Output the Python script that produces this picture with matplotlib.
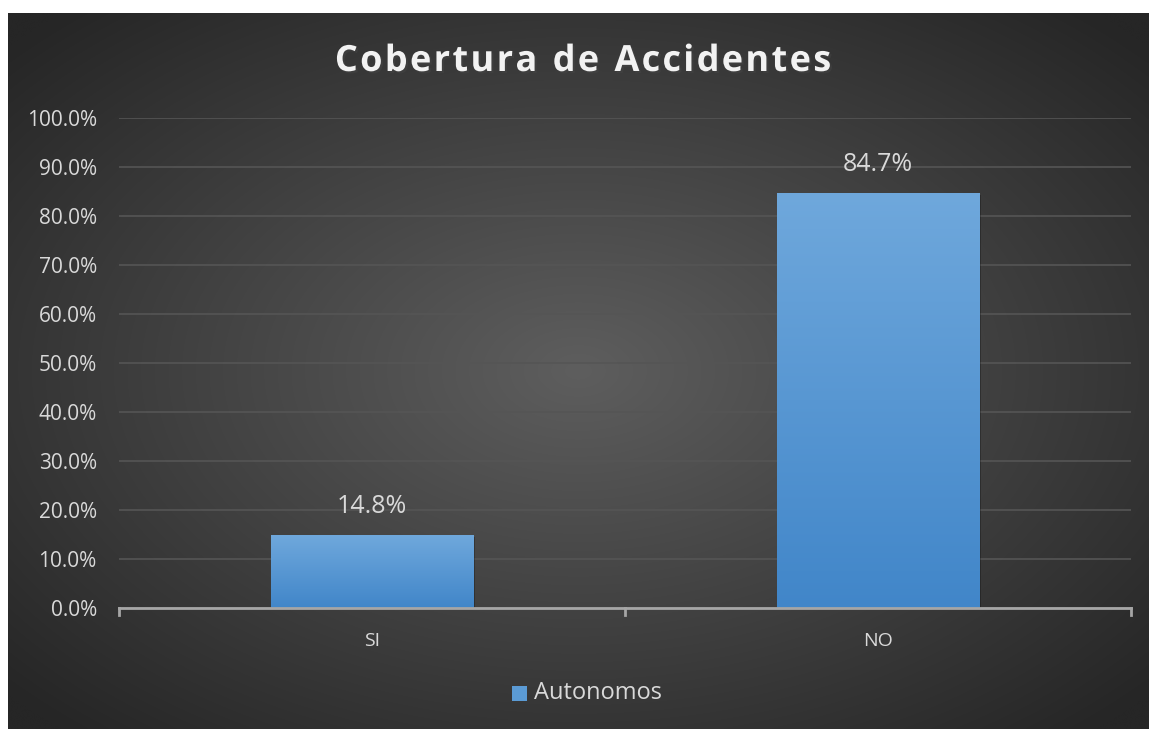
import matplotlib
matplotlib.use("Agg")
import matplotlib.pyplot as plt
import matplotlib.patheffects as pe
import numpy as np
from matplotlib.patches import Rectangle

# data
categories = ["SI", "NO"]
values = [14.8, 84.7]
series_name = "Autonomos"
title = "Cobertura de Accidentes"
yticks = [0, 10, 20, 30, 40, 50, 60, 70, 80, 90, 100]

plt.rcParams['font.family'] = ['Open Sans', 'DejaVu Sans']

W, H = 1149, 729
fig = plt.figure(figsize=(W / 100, H / 100), dpi=100)
fig.patch.set_facecolor("white")

# dark panel with radial gradient
bg = fig.add_axes([8 / W, 0, (W - 8) / W, (H - 13) / H])
bg.set_axis_off()
yy, xx = np.mgrid[-1:1:400j, -1:1:600j]
r = np.sqrt(xx ** 2 + yy ** 2) / np.sqrt(2)
light = np.array([0x5e, 0x5e, 0x5e]) / 255
dark = np.array([0x26, 0x26, 0x26]) / 255
t = np.clip(r / 0.95, 0, 1)[..., None]
img = light * (1 - t) + dark * t
bg.imshow(img, aspect="auto", extent=[0, 1, 0, 1], interpolation="bicubic")
bg.set_xlim(0, 1)
bg.set_ylim(0, 1)

# plot axes
ax = fig.add_axes([119 / W, (H - 608) / H, 1012 / W, 490 / H])
ax.patch.set_alpha(0)
x = np.arange(len(categories))
bars = ax.bar(x, values, width=0.4, color="#5b9bd5", zorder=3)

# gradient fill on bars
grad = np.linspace(0, 1, 256)[:, None]
top = np.array([0x6f, 0xa8, 0xdc]) / 255
bot = np.array([0x41, 0x86, 0xc9]) / 255
for b in bars:
    bx, by, bw, bh = b.get_x(), b.get_y(), b.get_width(), b.get_height()
    g = top * (1 - grad[..., None]) + bot * grad[..., None]
    g = np.repeat(g, 2, axis=1)
    im = ax.imshow(g, extent=[bx, bx + bw, by, by + bh], aspect="auto", zorder=4)
    im.set_clip_path(b)
    sh = Rectangle((bx + 0.004, by - 0.4), bw, bh, facecolor="black", alpha=0.25,
                   zorder=2, edgecolor="none")
    ax.add_patch(sh)

ax.set_xlim(-0.5, 1.5)
ax.set_ylim(0, 100)
ax.set_yticks(yticks)
ax.set_yticklabels([f"{v:.1f}%" for v in yticks])
ax.set_xticks(x)
ax.set_xticklabels(categories)
ax.grid(axis="y", color="#555555", linewidth=1.2, zorder=0)
ax.set_axisbelow(True)

for s in ["top", "right", "left"]:
    ax.spines[s].set_visible(False)
ax.spines["bottom"].set_color("#a6a6a6")
ax.spines["bottom"].set_linewidth(2)
ax.spines["bottom"].set_zorder(5)
ax.tick_params(axis="y", length=0, labelsize=15, labelcolor="#d9d9d9", pad=16)
ax.tick_params(axis="x", length=0, labelsize=14, labelcolor="#d9d9d9", pad=17)
# category boundary ticks
for xb in [-0.5, 0.5, 1.5]:
    ax.plot([xb, xb], [0, -1.4], color="#a6a6a6", lw=2, clip_on=False, zorder=5)

for xi, v in zip(x, values):
    ax.text(xi, v + 3.3, f"{v:.1f}%", ha="center", va="bottom", fontsize=18,
            color="#d9d9d9")

# title with letter spacing, laid out char by char
renderer = fig.canvas.get_renderer()
spacing = 2.3
tkw = dict(fontsize=26, fontweight="bold", color="#f2f2f2", va="center", ha="left",
           path_effects=[pe.withSimplePatchShadow(offset=(1.5, -1.5), alpha=0.4)])
widths = []
for ch in title:
    probe = fig.text(0, 0, "n" if ch == " " else ch, **tkw)
    w = probe.get_window_extent(renderer).width
    if ch == " ":
        w *= 0.45
    widths.append(w)
    probe.remove()
total = sum(widths) + spacing * (len(title) - 1)
xpos = 583 - total / 2
for ch, w in zip(title, widths):
    if ch != " ":
        fig.text(xpos / W, (H - 62) / H, ch, **tkw)
    xpos += w + spacing

# legend
fig.patches.append(Rectangle((512 / W, (H - 701) / H), 15 / W, 15 / H,
                             transform=fig.transFigure, facecolor="#5b9bd5",
                             edgecolor="none"))
fig.text(534 / W, (H - 693) / H, series_name, ha="left", va="center",
         fontsize=17, color="#d9d9d9")

fig.savefig("out.png", dpi=100, facecolor=fig.get_facecolor())
